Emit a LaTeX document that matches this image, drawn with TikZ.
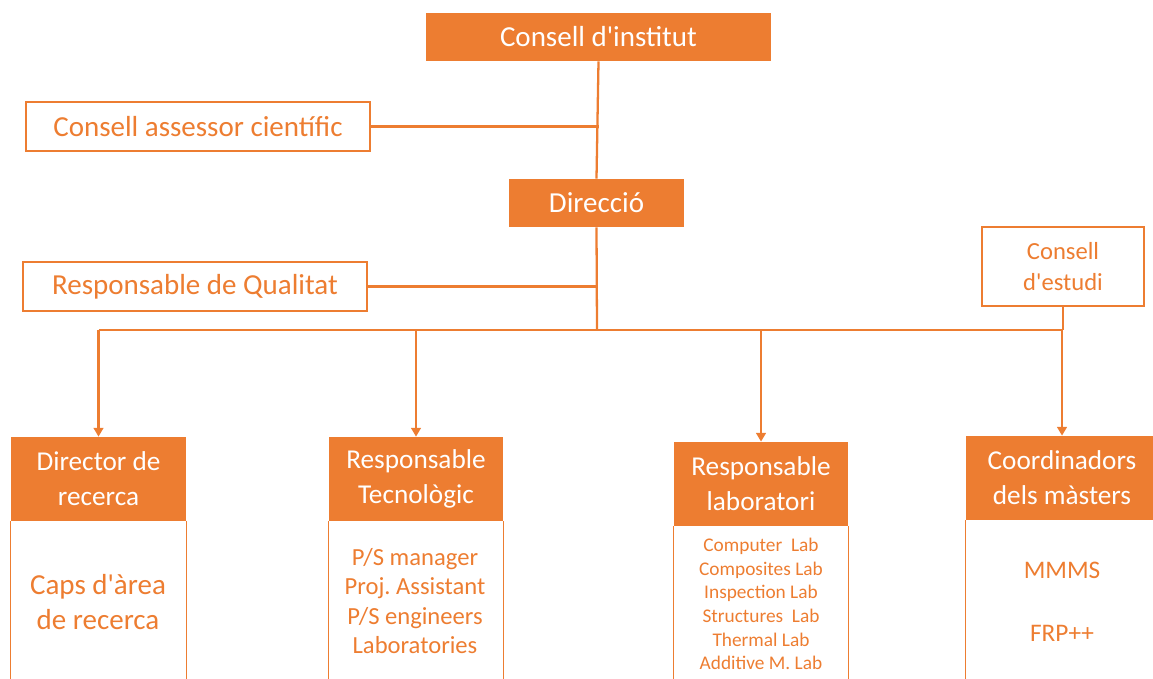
\documentclass[tikz,border=0pt]{standalone}
\usepackage{fontspec}
\setmainfont{Carlito}[Ligatures=TeXOff]
\usetikzlibrary{arrows.meta}
\definecolor{orng}{HTML}{ED7D31}
\tikzset{
  sz/.style 2 args={minimum width=#1*0.02cm, minimum height=#2*0.02cm},
  fillbox/.style={fill=orng, text=white, inner sep=0pt, align=center},
  linebox/.style={draw=orng, line width=0.8pt, fill=white, text=orng, inner sep=0pt, align=center},
  bodytext/.style={text=orng, inner sep=0pt, align=center},
  conn/.style={draw=orng, line width=1.3pt},
  frame/.style={draw=orng, line width=0.8pt},
}
\newcommand{\fs}[2]{\fontsize{#1}{#2}\selectfont\frenchspacing}
\begin{document}
\begin{tikzpicture}[x=0.02cm, y=-0.02cm, >={Triangle[length=5pt,width=5.5pt]}]
\useasboundingbox (0,0) rectangle (1153,679);
% top of the chart
\node[fillbox, sz={345}{48}, font=\fs{16.5}{20}] (ci) at (598.5,37) {Consell d'institut};
\node[linebox, sz={344}{49}, font=\fs{16.5}{20}] (cac) at (198,126.5) {Consell assessor científic};
\node[fillbox, sz={175}{48}, font=\fs{16.5}{20}] (dir) at (596.5,203) {Direcció};
\node[linebox, sz={344}{49}, font=\fs{16.5}{20}] (qual) at (195,286.5) {Responsable de Qualitat};
\node[linebox, sz={162}{79}, font=\fs{14}{17.6}] (cde) at (1063,266.5) {Consell\\d'estudi};
\coordinate (bus) at (597,330);
\coordinate (bottom) at (0,679);
% headers of the four units
\node[fillbox, sz={175}{84}, font=\fs{15.5}{20}] (hrec) at (98.5,479) {Director de\\recerca};
\node[fillbox, sz={174}{84}, font=\fs{15.5}{20}] (htec) at (416,479) {Responsable\\Tecnològic};
\node[fillbox, sz={174}{84}, font=\fs{15.5}{20}] (hlab) at (761,484) {Responsable\\laboratori};
\node[fillbox, sz={192}{84}, font=\fs{15.5}{20}] (hcoo) at (1062,478) {Coordinadors\\dels màsters};
% open bodies
\foreach \h in {hrec,htec,hlab,hcoo}{
  \draw[frame] (\h.south west) -- (\h.south west |- bottom);
  \draw[frame] (\h.south east) -- (\h.south east |- bottom);
}
\node[bodytext, font=\fs{16.5}{20.4}] (caps) at (98,602) {Caps d'àrea\\de recerca};
\node[bodytext, font=\fs{14}{16.7}] (tec) at (415,601) {P/S manager\\Proj. Assistant\\P/S engineers\\Laboratories};
\node[bodytext, font=\fs{11}{13.5}] (lab) at (761,604) {Computer~~Lab\\Composites Lab\\Inspection Lab\\Structures~~Lab\\Thermal Lab\\Additive M. Lab};
\node[bodytext, font=\fs{14.4}{17}] (mmms) at (1062,570) {MMMS};
\node[bodytext, font=\fs{14.4}{17}] (frp) at (1062,633) {FRP++};
% connectors
\draw[conn] (ci.south) -- (dir.north);
\draw[conn] (cac.east) -- (cac.east -| ci.south);
\draw[conn] (dir.south) -- (bus);
\draw[conn] (qual.east) -- (qual.east -| dir.south);
\draw[conn] (hrec.north |- bus) -- (cde.south |- bus);
\draw[conn] (cde.south) -- (bus -| cde.south);
\draw[conn,->] (bus -| hrec.north) -- (hrec.north);
\draw[conn,->] (bus -| htec.north) -- (htec.north);
\draw[conn,->] (bus -| hlab.north) -- (hlab.north);
\draw[conn,->] (bus -| hcoo.north) -- (hcoo.north);
\end{tikzpicture}
\end{document}
